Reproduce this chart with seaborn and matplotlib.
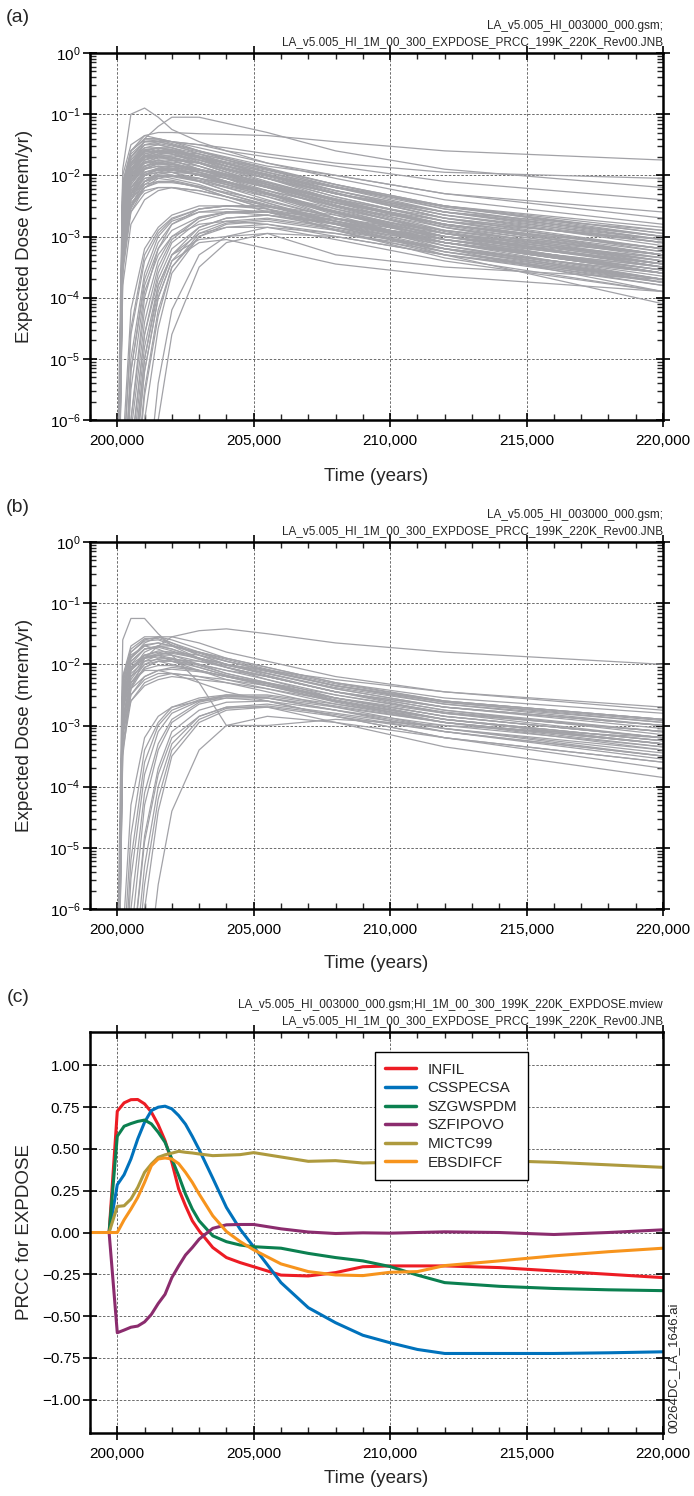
import numpy as np
import pandas as pd
import matplotlib
matplotlib.use("Agg")
import matplotlib.pyplot as plt
import matplotlib.ticker as mticker
import seaborn as sns

# ---- data --------------------------------------------------------------
# dose realizations: time grid (years) and log10(dose, mrem/yr) per realization
dose_times = [200000, 200200, 200500, 201000, 201500, 202000, 203000, 204000, 205500, 208000, 212000, 220000]

dose_a = [
    [-8, -2.0, -1.5, -1.35, -1.4, -1.45, -1.5, -1.6, -1.7, -1.85, -2.1, -2.4],
    [-9, -2.6, -1.7, -1.45, -1.45, -1.5, -1.6, -1.7, -1.85, -2.0, -2.3, -2.7],
    [-7, -1.9, -1.0, -0.9, -1.05, -1.25, -1.45, -1.6, -1.8, -2.0, -2.3, -2.6],
    [-9, -3.5, -2.0, -1.4, -1.2, -1.05, -1.05, -1.15, -1.3, -1.6, -1.9, -2.2],
    [-8, -2.3, -1.6, -1.35, -1.3, -1.3, -1.32, -1.33, -1.35, -1.45, -1.6, -1.75],
    [-8, -2.5, -1.8, -1.5, -1.45, -1.45, -1.5, -1.55, -1.65, -1.8, -1.95, -2.05],
    [-9, -2.2, -1.7, -1.5, -1.5, -1.55, -1.7, -1.85, -2.0, -2.3, -2.6, -3.0],
    [-8, -2.8, -2.0, -1.7, -1.6, -1.6, -1.7, -1.8, -2.0, -2.2, -2.5, -2.9],
    [-9, -3.0, -2.1, -1.75, -1.65, -1.62, -1.65, -1.75, -1.9, -2.15, -2.5, -3.0],
    [-8, -2.4, -1.9, -1.6, -1.55, -1.6, -1.75, -1.9, -2.1, -2.4, -2.8, -3.3],
    [-8, -2.6, -2.0, -1.8, -1.75, -1.8, -1.9, -2.0, -2.15, -2.4, -2.7, -3.1],
    [-9, -3.2, -2.3, -1.9, -1.8, -1.75, -1.8, -1.9, -2.05, -2.3, -2.6, -2.9],
    [-8, -2.7, -2.2, -1.95, -1.9, -1.9, -2.0, -2.1, -2.25, -2.5, -2.8, -3.2],
    [-8, -2.3, -1.8, -1.55, -1.5, -1.55, -1.7, -1.85, -2.05, -2.35, -2.75, -3.2],
    [-9, -2.9, -2.1, -1.8, -1.7, -1.7, -1.8, -1.95, -2.15, -2.45, -2.9, -3.4],
    [-8, -2.5, -2.0, -1.7, -1.65, -1.7, -1.85, -2.0, -2.2, -2.55, -3.0, -3.6],
    [-8, -3.0, -2.4, -2.1, -2.0, -2.0, -2.05, -2.15, -2.3, -2.55, -2.9, -3.3],
    [-9, -3.4, -2.5, -2.1, -1.95, -1.9, -1.95, -2.05, -2.2, -2.45, -2.75, -3.05],
    [-8, -2.6, -2.1, -1.85, -1.8, -1.85, -2.0, -2.15, -2.35, -2.7, -3.1, -3.6],
    [-8, -2.4, -1.9, -1.65, -1.6, -1.65, -1.8, -1.95, -2.15, -2.5, -2.95, -3.5],
    [-9, -3.1, -2.3, -2.0, -1.9, -1.9, -2.0, -2.1, -2.3, -2.6, -3.0, -3.5],
    [-8, -2.8, -2.3, -2.05, -2.0, -2.05, -2.15, -2.3, -2.5, -2.8, -3.2, -3.7],
    [-8, -2.2, -1.7, -1.45, -1.45, -1.5, -1.65, -1.8, -2.0, -2.3, -2.7, -3.1],
    [-9, -3.6, -2.6, -2.2, -2.05, -2.0, -2.05, -2.15, -2.3, -2.6, -2.95, -3.35],
    [-8, -2.5, -2.0, -1.75, -1.7, -1.75, -1.9, -2.05, -2.3, -2.7, -3.2, -3.9],
    [-8, -2.9, -2.4, -2.15, -2.1, -2.1, -2.2, -2.35, -2.55, -2.9, -3.35, -3.9],
    [-9, -3.3, -2.5, -2.2, -2.1, -2.1, -2.2, -2.35, -2.55, -2.85, -3.25, -3.7],
    [-8, -2.7, -2.2, -1.95, -1.9, -1.95, -2.1, -2.25, -2.45, -2.8, -3.3, -4.1],
    [-8, -2.3, -1.8, -1.6, -1.55, -1.6, -1.7, -1.8, -1.95, -2.2, -2.5, -2.85],
    [-9, -2.9, -2.2, -1.9, -1.85, -1.85, -1.95, -2.05, -2.2, -2.45, -2.8, -3.3],
    [-8, -3.1, -2.5, -2.25, -2.2, -2.2, -2.25, -2.35, -2.5, -2.75, -3.1, -3.55],
    [-8, -2.6, -2.05, -1.8, -1.75, -1.8, -1.95, -2.1, -2.3, -2.6, -3.05, -3.6],
    [-9, -3.8, -2.8, -2.4, -2.25, -2.2, -2.25, -2.35, -2.5, -2.75, -3.1, -3.5],
    [-8, -2.4, -1.85, -1.6, -1.55, -1.55, -1.65, -1.75, -1.9, -2.15, -2.5, -2.95],
    [-8, -2.1, -1.6, -1.4, -1.4, -1.45, -1.6, -1.75, -1.95, -2.25, -2.65, -3.1],
    [-9, -3.0, -2.3, -2.0, -1.95, -2.0, -2.1, -2.25, -2.45, -2.75, -3.15, -3.65],
    [-8, -2.7, -2.1, -1.85, -1.75, -1.75, -1.8, -1.9, -2.05, -2.3, -2.65, -3.05],
    [-8, -3.2, -2.6, -2.3, -2.2, -2.2, -2.3, -2.4, -2.6, -2.9, -3.3, -3.75],
    [-9, -2.5, -1.95, -1.7, -1.65, -1.65, -1.75, -1.85, -2.0, -2.25, -2.6, -3.0],
    [-8, -2.8, -2.25, -2.0, -1.95, -1.95, -2.05, -2.2, -2.4, -2.7, -3.1, -3.55],
    [-8, -2.3, -1.75, -1.5, -1.48, -1.52, -1.62, -1.72, -1.88, -2.15, -2.55, -3.05],
    [-9, -2.7, -1.95, -1.65, -1.6, -1.62, -1.72, -1.85, -2.02, -2.3, -2.7, -3.25],
    [-8, -2.45, -1.85, -1.62, -1.58, -1.62, -1.78, -1.92, -2.12, -2.42, -2.85, -3.4],
    [-8, -2.9, -2.15, -1.85, -1.78, -1.78, -1.85, -1.98, -2.12, -2.38, -2.75, -3.2],
    [-9, -3.3, -2.4, -2.0, -1.88, -1.85, -1.9, -1.98, -2.12, -2.4, -2.8, -3.3],
    [-8, -2.55, -2.0, -1.78, -1.72, -1.72, -1.8, -1.9, -2.05, -2.3, -2.65, -3.15],
    [-8, -2.35, -1.75, -1.55, -1.55, -1.6, -1.72, -1.85, -2.05, -2.4, -2.85, -3.45],
    [-9, -3.0, -2.25, -1.95, -1.88, -1.9, -1.98, -2.1, -2.28, -2.6, -3.05, -3.6],
    [-8, -2.65, -2.1, -1.9, -1.85, -1.88, -2.0, -2.12, -2.3, -2.6, -3.0, -3.45],
    [-8, -2.2, -1.65, -1.45, -1.42, -1.45, -1.55, -1.65, -1.8, -2.05, -2.4, -2.8],
    [-9, -2.75, -2.05, -1.75, -1.68, -1.68, -1.75, -1.85, -1.98, -2.25, -2.6, -3.1],
    [-8, -3.0, -2.35, -2.1, -2.02, -2.02, -2.1, -2.2, -2.35, -2.62, -3.0, -3.45],
    [-8, -2.5, -1.95, -1.72, -1.68, -1.72, -1.85, -1.98, -2.18, -2.5, -2.95, -3.5],
    [-9, -3.5, -2.55, -2.15, -2.02, -2.0, -2.05, -2.12, -2.25, -2.5, -2.85, -3.3],
    [-8, -2.4, -1.9, -1.7, -1.68, -1.75, -1.9, -2.05, -2.25, -2.6, -3.1, -3.7],
    [-8, -2.8, -2.3, -2.1, -2.05, -2.08, -2.18, -2.3, -2.48, -2.8, -3.25, -3.8],
    [-9, -2.6, -1.9, -1.6, -1.55, -1.58, -1.68, -1.78, -1.92, -2.18, -2.52, -2.95],
    [-8, -2.3, -1.8, -1.58, -1.55, -1.58, -1.7, -1.82, -1.98, -2.28, -2.7, -3.2],
    [-8, -3.1, -2.45, -2.2, -2.12, -2.12, -2.18, -2.28, -2.42, -2.7, -3.1, -3.6],
    [-9, -3.2, -2.35, -2.0, -1.9, -1.88, -1.92, -2.0, -2.15, -2.42, -2.82, -3.35],
    [-8, -2.6, -2.05, -1.85, -1.8, -1.82, -1.92, -2.02, -2.18, -2.45, -2.8, -3.25],
    [-8, -2.45, -1.9, -1.68, -1.62, -1.65, -1.75, -1.88, -2.05, -2.35, -2.75, -3.3],
    [-9, -2.85, -2.15, -1.88, -1.82, -1.82, -1.9, -2.02, -2.2, -2.52, -2.95, -3.5],
    [-8, -2.15, -1.6, -1.42, -1.42, -1.48, -1.6, -1.72, -1.9, -2.2, -2.6, -3.05],
    [-8, -2.75, -2.2, -1.98, -1.92, -1.92, -2.0, -2.12, -2.3, -2.62, -3.05, -3.55],
    [-9, -3.4, -2.5, -2.1, -1.98, -1.95, -1.98, -2.05, -2.18, -2.45, -2.8, -3.2],
    [-8, -2.5, -2.0, -1.8, -1.78, -1.82, -1.95, -2.1, -2.3, -2.65, -3.15, -3.75],
    [-8, -2.9, -2.3, -2.05, -2.0, -2.0, -2.08, -2.18, -2.32, -2.58, -2.95, -3.4],
    [-9, -2.65, -1.95, -1.68, -1.62, -1.62, -1.7, -1.8, -1.95, -2.2, -2.55, -3.0],
    [-8, -2.35, -1.82, -1.62, -1.6, -1.65, -1.8, -1.95, -2.15, -2.48, -2.92, -3.45],
    [-12, -9, -6.5, -4.6, -3.7, -3.2, -2.85, -2.7, -2.65, -2.8, -3.0, -3.35],
    [-12, -10, -7.5, -5.2, -4.0, -3.4, -2.9, -2.75, -2.7, -2.85, -3.1, -3.5],
    [-12, -9, -6.0, -4.0, -3.2, -2.8, -2.55, -2.5, -2.5, -2.65, -2.9, -3.3],
    [-12, -11, -8.5, -6.0, -4.5, -3.6, -3.0, -2.8, -2.75, -2.9, -3.2, -3.6],
    [-12, -9.5, -7.0, -5.0, -3.8, -3.3, -3.05, -3.0, -2.95, -3.3, -3.5, -3.7],
    [-12, -8, -5.5, -3.9, -3.3, -3.0, -2.8, -2.75, -2.8, -3.0, -3.3, -3.8],
    [-12, -8.5, -6.2, -4.4, -3.5, -3.05, -2.7, -2.6, -2.6, -2.8, -3.1, -3.6],
    [-12, -10, -7.8, -5.5, -4.2, -3.5, -3.0, -2.85, -2.8, -2.95, -3.25, -3.75],
    [-12, -9, -6.8, -4.8, -3.8, -3.3, -2.95, -2.85, -2.85, -3.05, -3.4, -3.9],
    [-12, -8, -5.2, -3.7, -3.1, -2.8, -2.6, -2.55, -2.6, -2.8, -3.15, -3.7],
    [-12, -7, -4.5, -3.3, -2.9, -2.7, -2.55, -2.5, -2.55, -2.75, -3.05, -3.45],
    [-12, -9.5, -7.2, -5.2, -4.0, -3.4, -3.1, -3.05, -3.2, -3.45, -3.65, -3.9],
    [-12, -6.5, -4.2, -3.2, -2.85, -2.65, -2.5, -2.5, -2.5, -2.7, -2.95, -3.3],
    [-12, -7.5, -5.0, -3.6, -3.0, -2.75, -2.6, -2.6, -2.65, -2.85, -3.2, -3.7],
    [-12, -12, -10, -7.5, -5.4, -4.2, -3.3, -3.0, -2.85, -2.95, -3.2, -3.6],
    [-12, -12, -11, -8.0, -6.0, -4.6, -3.5, -3.1, -2.95, -3.0, -3.3, -3.7],
    [-12, -8.5, -6.0, -4.2, -3.4, -3.0, -2.7, -2.6, -2.58, -2.72, -3.0, -3.45],
    [-12, -9, -6.6, -4.6, -3.6, -3.1, -2.75, -2.62, -2.6, -2.75, -3.05, -3.55],
    [-12, -7.5, -5.2, -3.8, -3.2, -2.9, -2.68, -2.6, -2.6, -2.78, -3.1, -3.6],
    [-12, -10, -7.2, -5.0, -3.9, -3.3, -2.85, -2.7, -2.65, -2.78, -3.05, -3.45],
    [-12, -11, -8.0, -5.6, -4.3, -3.5, -2.95, -2.78, -2.72, -2.88, -3.2, -3.75],
    [-12, -6.8, -4.6, -3.4, -2.95, -2.72, -2.55, -2.5, -2.52, -2.7, -3.0, -3.4],
]

dose_b = [
    [-7, -1.6, -1.25, -1.25, -1.5, -1.7, -1.9, -2.0, -2.1, -2.25, -2.45, -2.7],
    [-9, -3.5, -2.4, -1.9, -1.7, -1.55, -1.45, -1.42, -1.5, -1.65, -1.8, -2.0],
    [-8, -2.2, -1.8, -1.6, -1.55, -1.6, -1.75, -1.9, -2.05, -2.3, -2.55, -2.8],
    [-8, -2.5, -1.9, -1.65, -1.55, -1.55, -1.65, -1.8, -1.95, -2.2, -2.45, -2.75],
    [-9, -2.8, -2.1, -1.8, -1.7, -1.7, -1.8, -1.95, -2.1, -2.35, -2.6, -2.9],
    [-8, -2.3, -1.85, -1.7, -1.75, -1.85, -2.3, -3.0, -3.0, -2.9, -3.0, -3.2],
    [-8, -2.6, -2.1, -1.9, -1.85, -1.85, -1.95, -2.05, -2.2, -2.45, -2.7, -3.0],
    [-9, -3.0, -2.3, -2.0, -1.9, -1.9, -2.0, -2.1, -2.25, -2.5, -2.8, -3.1],
    [-8, -2.4, -2.0, -1.85, -1.85, -1.95, -2.1, -2.25, -2.4, -2.65, -2.95, -3.3],
    [-8, -2.7, -2.2, -2.0, -1.95, -2.0, -2.1, -2.2, -2.35, -2.55, -2.8, -3.1],
    [-9, -3.2, -2.4, -2.05, -1.95, -1.95, -2.0, -2.1, -2.2, -2.45, -2.7, -3.0],
    [-8, -2.5, -2.05, -1.85, -1.8, -1.85, -2.0, -2.15, -2.3, -2.6, -2.95, -3.4],
    [-8, -2.9, -2.4, -2.2, -2.1, -2.05, -2.1, -2.2, -2.35, -2.6, -2.9, -3.25],
    [-9, -2.6, -2.0, -1.75, -1.7, -1.75, -1.9, -2.05, -2.25, -2.55, -2.9, -3.3],
    [-8, -2.2, -1.7, -1.55, -1.55, -1.65, -1.85, -2.0, -2.15, -2.4, -2.7, -3.0],
    [-8, -3.0, -2.5, -2.25, -2.15, -2.15, -2.2, -2.3, -2.45, -2.7, -3.05, -3.5],
    [-9, -3.4, -2.6, -2.3, -2.2, -2.15, -2.2, -2.25, -2.35, -2.55, -2.85, -3.2],
    [-8, -2.4, -1.95, -1.75, -1.7, -1.75, -1.9, -2.05, -2.2, -2.45, -2.75, -3.15],
    [-8, -2.7, -2.3, -2.1, -2.1, -2.15, -2.3, -2.45, -2.6, -2.85, -3.2, -3.6],
    [-9, -2.9, -2.25, -1.95, -1.85, -1.8, -1.85, -1.95, -2.1, -2.35, -2.65, -3.0],
    [-8, -2.35, -1.9, -1.7, -1.65, -1.7, -1.8, -1.9, -2.05, -2.3, -2.6, -2.9],
    [-8, -3.1, -2.6, -2.35, -2.25, -2.2, -2.25, -2.3, -2.4, -2.6, -2.9, -3.3],
    [-8, -2.45, -1.95, -1.75, -1.72, -1.78, -1.92, -2.05, -2.2, -2.45, -2.75, -3.1],
    [-9, -2.75, -2.1, -1.85, -1.78, -1.8, -1.9, -2.0, -2.15, -2.4, -2.7, -3.05],
    [-8, -2.3, -1.8, -1.62, -1.6, -1.68, -1.85, -2.0, -2.18, -2.45, -2.8, -3.2],
    [-8, -2.85, -2.3, -2.08, -2.02, -2.02, -2.1, -2.2, -2.32, -2.55, -2.85, -3.2],
    [-9, -3.1, -2.35, -2.05, -1.95, -1.92, -1.95, -2.02, -2.15, -2.38, -2.65, -2.95],
    [-8, -2.55, -2.05, -1.88, -1.85, -1.9, -2.02, -2.15, -2.3, -2.55, -2.85, -3.2],
    [-8, -2.25, -1.75, -1.58, -1.58, -1.65, -1.8, -1.92, -2.08, -2.32, -2.6, -2.9],
    [-9, -2.95, -2.2, -1.9, -1.82, -1.82, -1.9, -2.0, -2.12, -2.35, -2.62, -2.92],
    [-8, -2.65, -2.15, -1.95, -1.92, -1.95, -2.05, -2.18, -2.35, -2.62, -2.95, -3.35],
    [-8, -2.4, -1.88, -1.68, -1.65, -1.7, -1.82, -1.95, -2.1, -2.35, -2.62, -2.95],
    [-9, -3.3, -2.5, -2.2, -2.1, -2.08, -2.12, -2.2, -2.3, -2.5, -2.78, -3.1],
    [-8, -2.6, -2.08, -1.9, -1.88, -1.92, -2.05, -2.18, -2.32, -2.58, -2.9, -3.25],
    [-12, -9, -6.5, -4.3, -3.4, -2.95, -2.65, -2.55, -2.55, -2.7, -2.95, -3.3],
    [-12, -10, -7.5, -5.3, -4.0, -3.3, -2.85, -2.7, -2.65, -2.8, -3.05, -3.4],
    [-12, -8, -5.5, -3.8, -3.1, -2.8, -2.6, -2.5, -2.5, -2.65, -2.9, -3.25],
    [-12, -11, -8.5, -6.0, -4.4, -3.5, -2.95, -2.75, -2.7, -2.85, -3.1, -3.5],
    [-12, -7, -4.8, -3.4, -2.95, -2.7, -2.55, -2.5, -2.55, -2.75, -3.05, -3.45],
    [-12, -9.5, -7.0, -4.9, -3.8, -3.2, -2.85, -2.7, -2.7, -2.95, -3.35, -3.85],
    [-12, -6.5, -4.3, -3.2, -2.85, -2.7, -2.6, -2.55, -2.6, -2.85, -3.2, -3.7],
    [-12, -12, -10, -7.5, -5.6, -4.4, -3.4, -3.0, -2.85, -2.95, -3.2, -3.6],
    [-12, -8.5, -6.0, -4.1, -3.3, -2.9, -2.62, -2.52, -2.52, -2.68, -2.95, -3.3],
    [-12, -9.5, -7.0, -4.8, -3.7, -3.1, -2.75, -2.62, -2.6, -2.75, -3.0, -3.35],
    [-12, -7.5, -5.2, -3.6, -3.0, -2.75, -2.58, -2.52, -2.55, -2.75, -3.1, -3.55],
    [-12, -11, -8.0, -5.6, -4.2, -3.4, -2.9, -2.72, -2.68, -2.82, -3.1, -3.5],
]

# PRCC curves (panel c); None = no value at that time
prcc_times = [199000, 199700, 200000, 200250, 200500, 200750, 201000, 201250, 201500, 201750,
              202000, 202250, 202500, 202750, 203000, 203500, 204000, 204500, 205000, 206000,
              207000, 208000, 209000, 210000, 211000, 212000, 214000, 216000, 218000, 220000]
infil = [None, 0.0, 0.726, 0.776, 0.795, 0.796, 0.77, 0.72, 0.645, 0.55,
         0.42, 0.26, 0.16, 0.07, 0.01, -0.09, -0.15, -0.18, -0.205, -0.255,
         -0.26, -0.24, -0.205, -0.2, -0.2, -0.2, -0.21, -0.23, -0.25, -0.27]
csspecsa = [None, 0.0, 0.286, 0.346, 0.44, 0.56, 0.66, 0.73, 0.75, 0.756,
            0.74, 0.70, 0.648, 0.575, 0.496, 0.325, 0.15, 0.02, -0.086, -0.30,
            -0.45, -0.54, -0.615, -0.66, -0.70, -0.724, -0.724, -0.724, -0.72, -0.714]
szgwspdm = [None, 0.0, 0.576, 0.636, 0.652, 0.665, 0.673, 0.65, 0.60, 0.54,
            0.44, 0.34, 0.23, 0.14, 0.07, -0.02, -0.055, -0.075, -0.085, -0.094,
            -0.125, -0.15, -0.17, -0.204, -0.255, -0.30, -0.322, -0.335, -0.343, -0.348]
szfipovo = [None, 0.0, -0.60, -0.584, -0.567, -0.56, -0.535, -0.49, -0.425, -0.37,
            -0.27, -0.20, -0.135, -0.09, -0.04, 0.025, 0.046, 0.048, 0.048, 0.022,
            0.003, -0.006, -0.002, -0.004, 0.0, 0.004, 0.0, -0.012, 0.0, 0.016]
mictc99 = [None, 0.0, 0.156, 0.16, 0.2, 0.27, 0.36, 0.41, 0.45, 0.465,
           0.475, 0.486, 0.48, 0.476, 0.47, 0.46, 0.463, 0.466, 0.478, 0.452,
           0.426, 0.43, 0.416, 0.42, 0.425, 0.43, 0.43, 0.42, 0.405, 0.39]
ebsdifcf = [0.0, 0.0, 0.0, 0.076, 0.14, 0.21, 0.30, 0.40, 0.44, 0.446,
            0.44, 0.412, 0.36, 0.30, 0.23, 0.10, 0.006, -0.054, -0.104, -0.188,
            -0.234, -0.254, -0.258, -0.238, -0.234, -0.198, -0.17, -0.14, -0.115, -0.094]

prcc_names = ["INFIL", "CSSPECSA", "SZGWSPDM", "SZFIPOVO", "MICTC99", "EBSDIFCF"]
prcc_series = [infil, csspecsa, szgwspdm, szfipovo, mictc99, ebsdifcf]
prcc_colors = ["#ed1c24", "#0072bc", "#0b8050", "#8b2c6e", "#ae9a3e", "#f7941d"]

header_1 = "LA_v5.005_HI_003000_000.gsm;"
header_c = "LA_v5.005_HI_003000_000.gsm;HI_1M_00_300_199K_220K_EXPDOSE.mview"
header_2 = "LA_v5.005_HI_1M_00_300_EXPDOSE_PRCC_199K_220K_Rev00.JNB"

# ---- style --------------------------------------------------------------
sns.set_style("ticks")
plt.rcParams["font.family"] = ["Liberation Sans", "DejaVu Sans"]
plt.rcParams["mathtext.fontset"] = "custom"
plt.rcParams["mathtext.rm"] = "Liberation Sans"
plt.rcParams["mathtext.it"] = "Liberation Sans:italic"
plt.rcParams["mathtext.bf"] = "Liberation Sans:bold"

W, H = 694, 1496
fig = plt.figure(figsize=(W / 100, H / 100), dpi=100)
fig.patch.set_facecolor("white")


def px(x, y):
    return x / W, 1 - y / H


def make_axes(top, bottom):
    return fig.add_axes([90 / W, 1 - bottom / H, 573 / W, (bottom - top) / H])


def dose_frame(curves):
    rows = []
    for i, c in enumerate(curves):
        for t, v in zip(dose_times, c):
            rows.append((t, 10.0 ** v, i))
    return pd.DataFrame(rows, columns=["time", "dose", "run"])


def style_axis(ax):
    ax.set_xlim(199000, 220000)
    ax.xaxis.set_major_locator(mticker.MultipleLocator(5000))
    ax.xaxis.set_minor_locator(mticker.MultipleLocator(1000))
    ax.xaxis.set_major_formatter(mticker.StrMethodFormatter("{x:,.0f}"))
    ax.tick_params(which="major", direction="inout", length=10, width=1.2,
                   top=True, right=True, labelsize=11, colors="black")
    ax.tick_params(axis="x", which="major", pad=5)
    ax.tick_params(axis="y", which="major", pad=2)
    ax.tick_params(which="minor", direction="in", length=4.5, width=1.0,
                   top=True, right=True)
    ax.grid(True, which="major", linestyle=(0, (3, 2)), color="#555555", linewidth=0.6)
    ax.set_axisbelow(True)
    for s in ax.spines.values():
        s.set_linewidth(1.8)
        s.set_color("black")
    ax.set_xlabel("Time (years)", fontsize=13.5)


def panel_text(tag, top, lines):
    fig.text(*px(18, top - 35), tag, fontsize=14, ha="center", va="center")
    fig.text(*px(663, top - 27), lines[0], fontsize=8.5, ha="right", va="center")
    fig.text(*px(663, top - 11), lines[1], fontsize=8.5, ha="right", va="center")


gray = "#a2a2a7"

# ---- panels (a) and (b): expected dose realizations ---------------------
for curves, top, bottom, tag, xl_off in [(dose_a, 53, 420, "(a)", 48), (dose_b, 542, 909, "(b)", 46)]:
    ax = make_axes(top, bottom)
    df = dose_frame(curves)
    sns.lineplot(data=df, x="time", y="dose", units="run", estimator=None,
                 color=gray, linewidth=0.9, ax=ax, legend=False)
    ax.set_yscale("log")
    ax.set_ylim(1e-6, 1)
    ax.yaxis.set_major_locator(mticker.LogLocator(base=10, numticks=10))
    ax.yaxis.set_minor_locator(mticker.LogLocator(base=10, subs=np.arange(2, 10), numticks=20))
    ax.yaxis.set_minor_formatter(mticker.NullFormatter())
    style_axis(ax)
    ax.set_ylabel("Expected Dose (mrem/yr)", fontsize=13.5)
    ax.yaxis.set_label_coords(-57 / 573, 0.5)
    ax.xaxis.set_label_coords(0.5, -xl_off / (bottom - top))
    panel_text(tag, top, [header_1, header_2])

# ---- panel (c): PRCC ----------------------------------------------------
top, bottom = 1032, 1433
ax = make_axes(top, bottom)
rows = []
for name, vals in zip(prcc_names, prcc_series):
    for t, v in zip(prcc_times, vals):
        if v is not None:
            rows.append((t, v, name))
prcc_df = pd.DataFrame(rows, columns=["time", "prcc", "param"])
sns.lineplot(data=prcc_df, x="time", y="prcc", hue="param", hue_order=prcc_names,
             palette=dict(zip(prcc_names, prcc_colors)), linewidth=2.2,
             estimator=None, errorbar=None, ax=ax)
ax.set_ylim(-1.2, 1.2)
ax.yaxis.set_major_locator(mticker.MultipleLocator(0.25))
ax.yaxis.set_major_formatter(mticker.StrMethodFormatter("{x:.2f}"))
style_axis(ax)
ax.set_ylabel("PRCC for EXPDOSE", fontsize=13.5)
ax.yaxis.set_label_coords(-57 / 573, 0.5)
ax.xaxis.set_label_coords(0.5, -37 / (bottom - top))
handles, labels = ax.get_legend_handles_labels()
leg = ax.legend(handles, labels, loc="upper left", bbox_to_anchor=(0.497, 0.95),
                frameon=True, fancybox=False, edgecolor="black", framealpha=1,
                fontsize=11, labelspacing=0.3, handlelength=2.0, handletextpad=0.75,
                borderpad=0.7, borderaxespad=0)
leg.get_frame().set_linewidth(1.0)
for line in leg.get_lines():
    line.set_linewidth(2.5)
panel_text("(c)", top, [header_c, header_2])

fig.text(*px(674, 1433), "00264DC_LA_1646.ai", fontsize=9.5, rotation=90,
         ha="center", va="bottom")

fig.savefig("out.png", dpi=100, facecolor="white")
